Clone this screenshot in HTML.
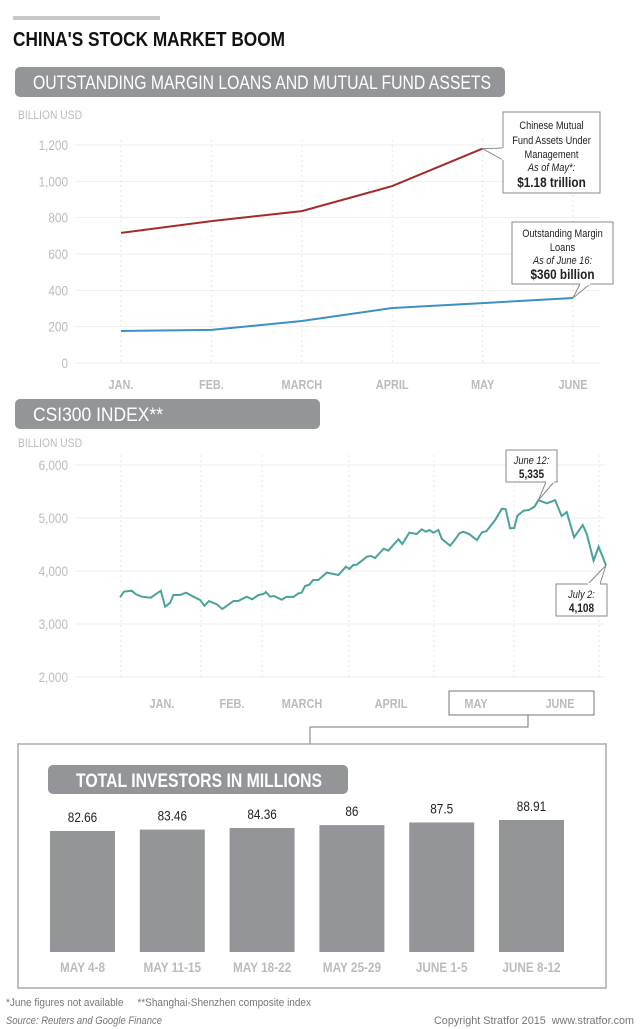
<!DOCTYPE html>
<html><head><meta charset="utf-8"><style>
body{margin:0;background:#fff;width:640px;height:1029px;overflow:hidden}
svg{display:block;font-family:"Liberation Sans",sans-serif}
</style></head><body>
<svg id="s" width="640" height="1029" viewBox="0 0 640 1029">
<rect x="13" y="16" width="147" height="4" fill="#c8c8c8"/>
<text x="13" y="46" font-size="20" font-weight="bold" fill="#111" textLength="272" lengthAdjust="spacingAndGlyphs">CHINA'S STOCK MARKET BOOM</text>
<rect x="15" y="67" width="490" height="30" rx="5" fill="#939598"/>
<text x="33" y="89" font-size="19" fill="#fff" textLength="458" lengthAdjust="spacingAndGlyphs">OUTSTANDING MARGIN LOANS AND MUTUAL FUND ASSETS</text>
<text x="18" y="119" font-size="12" fill="#bbb" textLength="64" lengthAdjust="spacingAndGlyphs">BILLION USD</text>
<g id="c1"></g>
<rect x="15" y="399" width="305" height="30" rx="5" fill="#939598"/>
<text x="33" y="421" font-size="19" fill="#fff" textLength="130" lengthAdjust="spacingAndGlyphs">CSI300 INDEX**</text>
<text x="18" y="447" font-size="12" fill="#bbb" textLength="64" lengthAdjust="spacingAndGlyphs">BILLION USD</text>
<g id="c2"></g>
<rect x="449" y="691" width="145" height="24" fill="none" stroke="#777"/>
<polyline points="528,715 528,727 310,727 310,744" fill="none" stroke="#777"/>
<rect x="18" y="744" width="588" height="244" fill="none" stroke="#aaa" stroke-width="1.5"/>
<rect x="48" y="765" width="300" height="29" rx="5" fill="#939598"/>
<text x="76" y="787" font-size="19" font-weight="bold" fill="#fff" textLength="246" lengthAdjust="spacingAndGlyphs">TOTAL INVESTORS IN MILLIONS</text>
<g id="c3"></g>
<text x="6" y="1006" font-size="11" fill="#777" textLength="305" lengthAdjust="spacingAndGlyphs">*June figures not available &#160;&#160;&#160; **Shanghai-Shenzhen composite index</text>
<text x="6" y="1024" font-size="11" font-style="italic" fill="#777" textLength="156" lengthAdjust="spacingAndGlyphs">Source: Reuters and Google Finance</text>
<text x="634" y="1024" font-size="11" fill="#777" text-anchor="end" textLength="200" lengthAdjust="spacingAndGlyphs">Copyright Stratfor 2015 &#160;www.stratfor.com</text>
</svg>
<script>
// Chart 1 data
const months1 = ["JAN.","FEB.","MARCH","APRIL","MAY","JUNE"];
const fundAssets = [716, 781, 836, 974, 1180, null];
const marginLoans = [176, 182, 231, 303, 330, 358];
const ticks1 = [0,200,400,600,800,1000,1200];
// Chart 2 data
const csiDays = [0,1,3,4.1,5.6,7.9,10.5,11.6,12.9,13.7,15.4,17,18.9,20.6,21.7,22.9,24.9,26.3,27.9,29.2,30.4,32.6,34,35.6,36.9,37.5,38.6,39.6,41.6,42.9,44.6,45.9,46.7,47.6,48.7,49.7,51,53.2,56.2,58.1,59,60,60.9,63.5,64.5,65.6,67.8,69,71.6,72.6,74.4,76.3,77.6,78.7,79.6,80.6,81.9,82.8,84.9,85.9,87.3,88.3,89.9,91.8,93.1,94.3,96.5,98.2,99.2,100.3,101.4,102.2,103.8,105.1,106.6,107.6,109.8,111.9,113.6,114.9,116.8,119,120.1,121.8,123.1,125];
const csiValues = [3504,3610,3628,3560,3515,3497,3628,3326,3402,3547,3547,3591,3515,3453,3346,3434,3371,3283,3365,3434,3434,3515,3466,3547,3566,3604,3515,3528,3459,3515,3509,3579,3591,3717,3742,3830,3830,3969,3925,4082,4038,4113,4119,4270,4283,4245,4421,4383,4598,4509,4723,4698,4787,4742,4774,4723,4774,4604,4478,4566,4711,4742,4692,4585,4730,4755,4962,5176,5164,4806,4811,5043,5138,5151,5213,5335,5277,5335,5038,5113,4636,4868,4692,4194,4459,4108];
const ticks2 = [2000,3000,4000,5000,6000];
const tickLabels2 = ["2,000","3,000","4,000","5,000","6,000"];
const months2 = ["JAN.","FEB.","MARCH","APRIL","MAY","JUNE"];
// Chart 3 data
const weeks = ["MAY 4-8","MAY 11-15","MAY 18-22","MAY 25-29","JUNE 1-5","JUNE 8-12"];
const investors = [82.66, 83.46, 84.36, 86, 87.5, 88.91];
const investorLabels = ["82.66","83.46","84.36","86","87.5","88.91"];

const NS="http://www.w3.org/2000/svg";
function mk(p,t,a){const e=document.createElementNS(NS,t);for(const k in a)e.setAttribute(k,a[k]);p.appendChild(e);return e;}

// ---- chart 1
const c1=document.getElementById('c1');
const x1=i=>121+i*90.4, y1=v=>363-v*218/1200;
ticks1.forEach(t=>{
  const l=mk(c1,'line',{x1:75,x2:600,y1:y1(t),y2:y1(t),stroke:'#eee'});
  
  
  const tx=mk(c1,'text',{x:68,y:y1(t)+5,'font-size':14,fill:'#bbb','text-anchor':'end'});
  tx.textContent=t.toLocaleString('en-US');
  
  
});
months1.forEach((m,i)=>{
  const l=mk(c1,'line',{x1:x1(i),x2:x1(i),y1:140,y2:363,stroke:'#e6e6e6','stroke-dasharray':'2,3'});
  
  
  const tx=mk(c1,'text',{x:x1(i),y:389,'font-size':13,'font-weight':'bold',fill:'#bbb','text-anchor':'middle'});
  tx.textContent=m;
  
  
});
function path(vals,xf,yf){return vals.map((v,i)=>v==null?null:[xf(i),yf(v)]).filter(p=>p).map((p,i)=>(i?'L':'M')+p[0].toFixed(1)+','+p[1].toFixed(1)).join('');}
const red=mk(c1,'path',{d:path(fundAssets,x1,y1),fill:'none',stroke:'#a52a2a','stroke-width':2});


const blue=mk(c1,'path',{d:path(marginLoans,x1,y1),fill:'none',stroke:'#3d8fc4','stroke-width':2});


function callout(g,name,bx,by,bw,bh,px,py,lines,ax,ay){
  const grp=mk(g,'g',{});
  
  
  mk(grp,'path',{d:`M${bx},${by}H${bx+bw}V${by+bh}H${bx}Z`,fill:'#fff',stroke:'#888'});
  mk(grp,'polyline',{points:`${ax[0]},${ax[1]} ${px},${py} ${ay[0]},${ay[1]}`,fill:'#fff',stroke:'#888'});
  mk(grp,'line',{x1:ax[0],y1:ax[1],x2:ay[0],y2:ay[1],stroke:'#fff','stroke-width':2});
  lines.forEach(l=>{const t=mk(grp,'text',{x:bx+bw/2,y:l[1],'font-size':l[2],'text-anchor':'middle',fill:'#222','font-weight':l[3]?'bold':'normal','font-style':l[4]?'italic':'normal'});t.textContent=l[0];});
}
callout(c1,'fund-assets-callout',503,112,97,81,x1(4),y1(fundAssets[4]),[["Chinese Mutual",129,11],["Fund Assets Under",144,11],["Management",158,11],["As of May*:",171,11,0,1],["$1.18 trillion",187,14,1]],[503,148],[503,160]);
callout(c1,'margin-loans-callout',512,222,101,62,x1(5),y1(marginLoans[5]),[["Outstanding Margin",237,11],["Loans",251,11],["As of June 16:",264,11,0,1],["$360 billion",279,14,1]],[580,284],[590,284]);

// ---- chart 2
const c2=document.getElementById('c2');
const x2=d=>120+d*(606-120)/125, y2=v=>571-(v-4000)*53/1000;
ticks2.forEach((t,i)=>{
  const l=mk(c2,'line',{x1:75,x2:605,y1:y2(t),y2:y2(t),stroke:'#eee'});
  
  
  const tx=mk(c2,'text',{x:68,y:y2(t)+5,'font-size':14,fill:'#bbb','text-anchor':'end'});
  tx.textContent=tickLabels2[i];
  
  
});
[121,201,262,349,434,514,599].forEach(x=>{
  const l=mk(c2,'line',{x1:x,x2:x,y1:455,y2:680,stroke:'#e6e6e6','stroke-dasharray':'2,3'});
  
  
});
[162,232,302,391,476,560].forEach((x,i)=>{
  const tx=mk(c2,'text',{x:x,y:708,'font-size':13,'font-weight':'bold',fill:'#bbb','text-anchor':'middle'});
  tx.textContent=months2[i];
  
  
});
const csi=mk(c2,'path',{d:csiValues.map((v,i)=>(i?'L':'M')+x2(csiDays[i]).toFixed(1)+','+y2(v).toFixed(1)).join(''),fill:'none',stroke:'#4aa39a','stroke-width':2});


const pk=csiValues.indexOf(Math.max(...csiValues));
callout(c2,'peak-callout',506,450,51,32,x2(csiDays[pk]),y2(csiValues[pk]),[["June 12:",464,11,0,1],["5,335",478,12,1]],[546,482],[554,482]);
const li=csiValues.length-1;
callout(c2,'last-callout',556,584,51,32,x2(csiDays[li]),y2(csiValues[li]),[["July 2:",598,11,0,1],["4,108",612,12,1]],[588,584],[600,584]);

// ---- chart 3
const c3=document.getElementById('c3');
const bx=i=>50+i*89.8, bw=65, base=952, by=v=>base-(v-13.9)*1.76;
investors.forEach((v,i)=>{
  const r=mk(c3,'rect',{x:bx(i),y:by(v),width:bw,height:base-by(v),fill:'#939598'});
  
  
  const t=mk(c3,'text',{x:bx(i)+bw/2,y:by(v)-9,'font-size':14,fill:'#222','text-anchor':'middle'});
  t.textContent=investorLabels[i];
  
  
  const w=mk(c3,'text',{x:bx(i)+bw/2,y:972,'font-size':14,'font-weight':'bold',fill:'#bbb','text-anchor':'middle'});
  w.textContent=weeks[i];
  
  
});
// condense remaining text to mimic narrow typeface
document.querySelectorAll('#c1 text,#c2 text,#c3 text').forEach(t=>{
  const L=t.getComputedTextLength();
  if(L>0){t.setAttribute('textLength',(L*0.84).toFixed(1));t.setAttribute('lengthAdjust','spacingAndGlyphs');}
});
</script>
</body></html>
